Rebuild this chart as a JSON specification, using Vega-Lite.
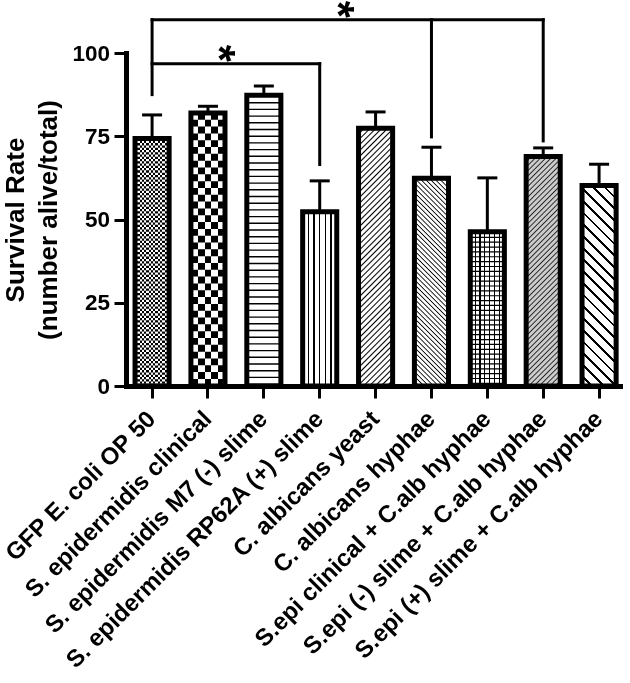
{
"$schema":"https://vega.github.io/schema/vega-lite/v6.json",
"autosize":{"type":"none"},
"width":494,"height":333,
"padding":{"left":126,"top":53,"right":10,"bottom":297},
"background":"#ffffff",
"config":{"view":{"stroke":null},"font":"Liberation Sans"},
"datasets":{
"bars":[
{"id":1,"group":"GFP E. coli OP 50","rate":74.3,"err":81.4},
{"id":2,"group":"S. epidermidis clinical","rate":82.0,"err":84.0},
{"id":3,"group":"S. epidermidis M7 (-) slime","rate":87.3,"err":90.1},
{"id":4,"group":"S. epidermidis RP62A (+) slime","rate":52.3,"err":61.6},
{"id":5,"group":"C. albicans yeast","rate":77.4,"err":82.3},
{"id":6,"group":"C. albicans hyphae","rate":62.4,"err":71.7},
{"id":7,"group":"S.epi clinical + C.alb hyphae","rate":46.3,"err":62.5},
{"id":8,"group":"S.epi (-) slime + C.alb hyphae","rate":68.9,"err":71.5},
{"id":9,"group":"S.epi (+) slime + C.alb hyphae","rate":60.2,"err":66.6}
],
"hbr":[
{"from":"GFP E. coli OP 50","to":"S. epidermidis RP62A (+) slime","level":96.8},
{"from":"GFP E. coli OP 50","to":"S.epi (-) slime + C.alb hyphae","level":110}
],
"vbr":[
{"at":"GFP E. coli OP 50","low":87.5,"high":110},
{"at":"S. epidermidis RP62A (+) slime","low":66.5,"high":96.8},
{"at":"C. albicans hyphae","low":74.8,"high":110},
{"at":"S.epi (-) slime + C.alb hyphae","low":73.6,"high":110}
],
"stars":[
{"n":1,"at":"S. epidermidis clinical","level":99.9},
{"n":2,"at":"S. epidermidis RP62A (+) slime","level":113.1}
]
},
"data":{"name":"bars"},
"encoding":{
"x":{"field":"group","type":"nominal","sort":null,
"scale":{"domain":["GFP E. coli OP 50","S. epidermidis clinical","S. epidermidis M7 (-) slime","S. epidermidis RP62A (+) slime","C. albicans yeast","C. albicans hyphae","S.epi clinical + C.alb hyphae","S.epi (-) slime + C.alb hyphae","S.epi (+) slime + C.alb hyphae"],"paddingInner":0.39,"paddingOuter":0.1156,"align":0.7},
"axis":{"title":null,"labelAngle":-45,"labelAlign":"right","labelBaseline":"middle","labelFontSize":24,"labelFontWeight":"bold","labelColor":"#000","labelPadding":17,"labelLimit":0,"labelOverlap":false,"tickSize":12,"tickWidth":3,"tickColor":"#000","domainColor":"#000","domainWidth":5,"domainCap":"square","grid":false}},
"y":{"field":"rate","type":"quantitative","scale":{"domain":[0,100],"nice":false},
"axis":{"values":[0,25,50,75,100],"title":["Survival Rate","(number alive/total)"],"titleFontSize":26,"titleFontWeight":"bold","titleColor":"#000","titleLineHeight":33,"titleX":-124,"titleY":166.5,"titleAngle":270,"titleAlign":"center","titleBaseline":"top","labelFontSize":22.5,"labelFontWeight":"bold","labelColor":"#000","labelPadding":4.5,"tickSize":12,"tickWidth":3,"tickColor":"#000","domainColor":"#000","domainWidth":5,"domainCap":"square","grid":false}}
},
"layer":[
{"transform":[{"filter":"datum.id==1"}],"mark":{"type":"bar","fill":{"gradient":"linear","x1":0,"y1":0,"x2":1,"y2":0,"stops":[{"offset":0,"color":"#000"},{"offset":0.0667,"color":"#000"},{"offset":0.0667,"color":"#fff"},{"offset":0.1333,"color":"#fff"},{"offset":0.1333,"color":"#000"},{"offset":0.2,"color":"#000"},{"offset":0.2,"color":"#fff"},{"offset":0.2667,"color":"#fff"},{"offset":0.2667,"color":"#000"},{"offset":0.3333,"color":"#000"},{"offset":0.3333,"color":"#fff"},{"offset":0.4,"color":"#fff"},{"offset":0.4,"color":"#000"},{"offset":0.4667,"color":"#000"},{"offset":0.4667,"color":"#fff"},{"offset":0.5333,"color":"#fff"},{"offset":0.5333,"color":"#000"},{"offset":0.6,"color":"#000"},{"offset":0.6,"color":"#fff"},{"offset":0.6667,"color":"#fff"},{"offset":0.6667,"color":"#000"},{"offset":0.7333,"color":"#000"},{"offset":0.7333,"color":"#fff"},{"offset":0.8,"color":"#fff"},{"offset":0.8,"color":"#000"},{"offset":0.8667,"color":"#000"},{"offset":0.8667,"color":"#fff"},{"offset":0.9333,"color":"#fff"},{"offset":0.9333,"color":"#000"},{"offset":1,"color":"#000"}]}}},
{"transform":[{"filter":"datum.id==2"}],"mark":{"type":"bar","fill":{"gradient":"linear","x1":0,"y1":0,"x2":1,"y2":0,"stops":[{"offset":0,"color":"#000"},{"offset":0.2,"color":"#000"},{"offset":0.2,"color":"#fff"},{"offset":0.4,"color":"#fff"},{"offset":0.4,"color":"#000"},{"offset":0.6,"color":"#000"},{"offset":0.6,"color":"#fff"},{"offset":0.8,"color":"#fff"},{"offset":0.8,"color":"#000"},{"offset":1,"color":"#000"}]}}},
{"transform":[{"filter":"datum.id==3"}],"mark":{"type":"bar","fill":"#fff"}},
{"transform":[{"filter":"datum.id==4"}],"mark":{"type":"bar","fill":{"gradient":"linear","x1":0,"y1":0,"x2":1,"y2":0,"stops":[{"offset":0,"color":"#fff"},{"offset":0.149,"color":"#fff"},{"offset":0.149,"color":"#000"},{"offset":0.184,"color":"#000"},{"offset":0.184,"color":"#fff"},{"offset":0.316,"color":"#fff"},{"offset":0.316,"color":"#000"},{"offset":0.351,"color":"#000"},{"offset":0.351,"color":"#fff"},{"offset":0.482,"color":"#fff"},{"offset":0.482,"color":"#000"},{"offset":0.518,"color":"#000"},{"offset":0.518,"color":"#fff"},{"offset":0.649,"color":"#fff"},{"offset":0.649,"color":"#000"},{"offset":0.684,"color":"#000"},{"offset":0.684,"color":"#fff"},{"offset":0.816,"color":"#fff"},{"offset":0.816,"color":"#000"},{"offset":0.851,"color":"#000"},{"offset":0.851,"color":"#fff"},{"offset":1,"color":"#fff"}]}}},
{"transform":[{"filter":"datum.id==5"}],"mark":{"type":"bar","fill":{"gradient":"linear","x1":0,"y1":0,"x2":0.147,"y2":1.113,"stops":[{"offset":0,"color":"#000"},{"offset":0.005,"color":"#fff"},{"offset":0.015,"color":"#fff"},{"offset":0.02,"color":"#000"},{"offset":0.025,"color":"#fff"},{"offset":0.035,"color":"#fff"},{"offset":0.04,"color":"#000"},{"offset":0.045,"color":"#fff"},{"offset":0.055,"color":"#fff"},{"offset":0.06,"color":"#000"},{"offset":0.065,"color":"#fff"},{"offset":0.075,"color":"#fff"},{"offset":0.08,"color":"#000"},{"offset":0.085,"color":"#fff"},{"offset":0.095,"color":"#fff"},{"offset":0.1,"color":"#000"},{"offset":0.105,"color":"#fff"},{"offset":0.115,"color":"#fff"},{"offset":0.12,"color":"#000"},{"offset":0.125,"color":"#fff"},{"offset":0.135,"color":"#fff"},{"offset":0.14,"color":"#000"},{"offset":0.145,"color":"#fff"},{"offset":0.155,"color":"#fff"},{"offset":0.16,"color":"#000"},{"offset":0.165,"color":"#fff"},{"offset":0.175,"color":"#fff"},{"offset":0.18,"color":"#000"},{"offset":0.185,"color":"#fff"},{"offset":0.195,"color":"#fff"},{"offset":0.2,"color":"#000"},{"offset":0.205,"color":"#fff"},{"offset":0.215,"color":"#fff"},{"offset":0.22,"color":"#000"},{"offset":0.225,"color":"#fff"},{"offset":0.235,"color":"#fff"},{"offset":0.24,"color":"#000"},{"offset":0.245,"color":"#fff"},{"offset":0.255,"color":"#fff"},{"offset":0.26,"color":"#000"},{"offset":0.265,"color":"#fff"},{"offset":0.275,"color":"#fff"},{"offset":0.28,"color":"#000"},{"offset":0.285,"color":"#fff"},{"offset":0.295,"color":"#fff"},{"offset":0.3,"color":"#000"},{"offset":0.305,"color":"#fff"},{"offset":0.315,"color":"#fff"},{"offset":0.32,"color":"#000"},{"offset":0.325,"color":"#fff"},{"offset":0.335,"color":"#fff"},{"offset":0.34,"color":"#000"},{"offset":0.345,"color":"#fff"},{"offset":0.355,"color":"#fff"},{"offset":0.36,"color":"#000"},{"offset":0.365,"color":"#fff"},{"offset":0.375,"color":"#fff"},{"offset":0.38,"color":"#000"},{"offset":0.385,"color":"#fff"},{"offset":0.395,"color":"#fff"},{"offset":0.4,"color":"#000"},{"offset":0.405,"color":"#fff"},{"offset":0.415,"color":"#fff"},{"offset":0.42,"color":"#000"},{"offset":0.425,"color":"#fff"},{"offset":0.435,"color":"#fff"},{"offset":0.44,"color":"#000"},{"offset":0.445,"color":"#fff"},{"offset":0.455,"color":"#fff"},{"offset":0.46,"color":"#000"},{"offset":0.465,"color":"#fff"},{"offset":0.475,"color":"#fff"},{"offset":0.48,"color":"#000"},{"offset":0.485,"color":"#fff"},{"offset":0.495,"color":"#fff"},{"offset":0.5,"color":"#000"},{"offset":0.505,"color":"#fff"},{"offset":0.515,"color":"#fff"},{"offset":0.52,"color":"#000"},{"offset":0.525,"color":"#fff"},{"offset":0.535,"color":"#fff"},{"offset":0.54,"color":"#000"},{"offset":0.545,"color":"#fff"},{"offset":0.555,"color":"#fff"},{"offset":0.56,"color":"#000"},{"offset":0.565,"color":"#fff"},{"offset":0.575,"color":"#fff"},{"offset":0.58,"color":"#000"},{"offset":0.585,"color":"#fff"},{"offset":0.595,"color":"#fff"},{"offset":0.6,"color":"#000"},{"offset":0.605,"color":"#fff"},{"offset":0.615,"color":"#fff"},{"offset":0.62,"color":"#000"},{"offset":0.625,"color":"#fff"},{"offset":0.635,"color":"#fff"},{"offset":0.64,"color":"#000"},{"offset":0.645,"color":"#fff"},{"offset":0.655,"color":"#fff"},{"offset":0.66,"color":"#000"},{"offset":0.665,"color":"#fff"},{"offset":0.675,"color":"#fff"},{"offset":0.68,"color":"#000"},{"offset":0.685,"color":"#fff"},{"offset":0.695,"color":"#fff"},{"offset":0.7,"color":"#000"},{"offset":0.705,"color":"#fff"},{"offset":0.715,"color":"#fff"},{"offset":0.72,"color":"#000"},{"offset":0.725,"color":"#fff"},{"offset":0.735,"color":"#fff"},{"offset":0.74,"color":"#000"},{"offset":0.745,"color":"#fff"},{"offset":0.755,"color":"#fff"},{"offset":0.76,"color":"#000"},{"offset":0.765,"color":"#fff"},{"offset":0.775,"color":"#fff"},{"offset":0.78,"color":"#000"},{"offset":0.785,"color":"#fff"},{"offset":0.795,"color":"#fff"},{"offset":0.8,"color":"#000"},{"offset":0.805,"color":"#fff"},{"offset":0.815,"color":"#fff"},{"offset":0.82,"color":"#000"},{"offset":0.825,"color":"#fff"},{"offset":0.835,"color":"#fff"},{"offset":0.84,"color":"#000"},{"offset":0.845,"color":"#fff"},{"offset":0.855,"color":"#fff"},{"offset":0.86,"color":"#000"},{"offset":0.865,"color":"#fff"},{"offset":0.875,"color":"#fff"},{"offset":0.88,"color":"#000"},{"offset":0.885,"color":"#fff"},{"offset":0.895,"color":"#fff"},{"offset":0.9,"color":"#000"},{"offset":0.905,"color":"#fff"},{"offset":0.915,"color":"#fff"},{"offset":0.92,"color":"#000"},{"offset":0.925,"color":"#fff"},{"offset":0.935,"color":"#fff"},{"offset":0.94,"color":"#000"},{"offset":0.945,"color":"#fff"},{"offset":0.955,"color":"#fff"},{"offset":0.96,"color":"#000"},{"offset":0.965,"color":"#fff"},{"offset":0.975,"color":"#fff"},{"offset":0.98,"color":"#000"},{"offset":0.985,"color":"#fff"},{"offset":0.995,"color":"#fff"},{"offset":1,"color":"#000"}]}}},
{"transform":[{"filter":"datum.id==6"}],"mark":{"type":"bar","fill":{"gradient":"linear","x1":1,"y1":0,"x2":0.814,"y2":1.134,"stops":[{"offset":0,"color":"#000"},{"offset":0.005,"color":"#fff"},{"offset":0.015,"color":"#fff"},{"offset":0.02,"color":"#000"},{"offset":0.025,"color":"#fff"},{"offset":0.035,"color":"#fff"},{"offset":0.04,"color":"#000"},{"offset":0.045,"color":"#fff"},{"offset":0.055,"color":"#fff"},{"offset":0.06,"color":"#000"},{"offset":0.065,"color":"#fff"},{"offset":0.075,"color":"#fff"},{"offset":0.08,"color":"#000"},{"offset":0.085,"color":"#fff"},{"offset":0.095,"color":"#fff"},{"offset":0.1,"color":"#000"},{"offset":0.105,"color":"#fff"},{"offset":0.115,"color":"#fff"},{"offset":0.12,"color":"#000"},{"offset":0.125,"color":"#fff"},{"offset":0.135,"color":"#fff"},{"offset":0.14,"color":"#000"},{"offset":0.145,"color":"#fff"},{"offset":0.155,"color":"#fff"},{"offset":0.16,"color":"#000"},{"offset":0.165,"color":"#fff"},{"offset":0.175,"color":"#fff"},{"offset":0.18,"color":"#000"},{"offset":0.185,"color":"#fff"},{"offset":0.195,"color":"#fff"},{"offset":0.2,"color":"#000"},{"offset":0.205,"color":"#fff"},{"offset":0.215,"color":"#fff"},{"offset":0.22,"color":"#000"},{"offset":0.225,"color":"#fff"},{"offset":0.235,"color":"#fff"},{"offset":0.24,"color":"#000"},{"offset":0.245,"color":"#fff"},{"offset":0.255,"color":"#fff"},{"offset":0.26,"color":"#000"},{"offset":0.265,"color":"#fff"},{"offset":0.275,"color":"#fff"},{"offset":0.28,"color":"#000"},{"offset":0.285,"color":"#fff"},{"offset":0.295,"color":"#fff"},{"offset":0.3,"color":"#000"},{"offset":0.305,"color":"#fff"},{"offset":0.315,"color":"#fff"},{"offset":0.32,"color":"#000"},{"offset":0.325,"color":"#fff"},{"offset":0.335,"color":"#fff"},{"offset":0.34,"color":"#000"},{"offset":0.345,"color":"#fff"},{"offset":0.355,"color":"#fff"},{"offset":0.36,"color":"#000"},{"offset":0.365,"color":"#fff"},{"offset":0.375,"color":"#fff"},{"offset":0.38,"color":"#000"},{"offset":0.385,"color":"#fff"},{"offset":0.395,"color":"#fff"},{"offset":0.4,"color":"#000"},{"offset":0.405,"color":"#fff"},{"offset":0.415,"color":"#fff"},{"offset":0.42,"color":"#000"},{"offset":0.425,"color":"#fff"},{"offset":0.435,"color":"#fff"},{"offset":0.44,"color":"#000"},{"offset":0.445,"color":"#fff"},{"offset":0.455,"color":"#fff"},{"offset":0.46,"color":"#000"},{"offset":0.465,"color":"#fff"},{"offset":0.475,"color":"#fff"},{"offset":0.48,"color":"#000"},{"offset":0.485,"color":"#fff"},{"offset":0.495,"color":"#fff"},{"offset":0.5,"color":"#000"},{"offset":0.505,"color":"#fff"},{"offset":0.515,"color":"#fff"},{"offset":0.52,"color":"#000"},{"offset":0.525,"color":"#fff"},{"offset":0.535,"color":"#fff"},{"offset":0.54,"color":"#000"},{"offset":0.545,"color":"#fff"},{"offset":0.555,"color":"#fff"},{"offset":0.56,"color":"#000"},{"offset":0.565,"color":"#fff"},{"offset":0.575,"color":"#fff"},{"offset":0.58,"color":"#000"},{"offset":0.585,"color":"#fff"},{"offset":0.595,"color":"#fff"},{"offset":0.6,"color":"#000"},{"offset":0.605,"color":"#fff"},{"offset":0.615,"color":"#fff"},{"offset":0.62,"color":"#000"},{"offset":0.625,"color":"#fff"},{"offset":0.635,"color":"#fff"},{"offset":0.64,"color":"#000"},{"offset":0.645,"color":"#fff"},{"offset":0.655,"color":"#fff"},{"offset":0.66,"color":"#000"},{"offset":0.665,"color":"#fff"},{"offset":0.675,"color":"#fff"},{"offset":0.68,"color":"#000"},{"offset":0.685,"color":"#fff"},{"offset":0.695,"color":"#fff"},{"offset":0.7,"color":"#000"},{"offset":0.705,"color":"#fff"},{"offset":0.715,"color":"#fff"},{"offset":0.72,"color":"#000"},{"offset":0.725,"color":"#fff"},{"offset":0.735,"color":"#fff"},{"offset":0.74,"color":"#000"},{"offset":0.745,"color":"#fff"},{"offset":0.755,"color":"#fff"},{"offset":0.76,"color":"#000"},{"offset":0.765,"color":"#fff"},{"offset":0.775,"color":"#fff"},{"offset":0.78,"color":"#000"},{"offset":0.785,"color":"#fff"},{"offset":0.795,"color":"#fff"},{"offset":0.8,"color":"#000"},{"offset":0.805,"color":"#fff"},{"offset":0.815,"color":"#fff"},{"offset":0.82,"color":"#000"},{"offset":0.825,"color":"#fff"},{"offset":0.835,"color":"#fff"},{"offset":0.84,"color":"#000"},{"offset":0.845,"color":"#fff"},{"offset":0.855,"color":"#fff"},{"offset":0.86,"color":"#000"},{"offset":0.865,"color":"#fff"},{"offset":0.875,"color":"#fff"},{"offset":0.88,"color":"#000"},{"offset":0.885,"color":"#fff"},{"offset":0.895,"color":"#fff"},{"offset":0.9,"color":"#000"},{"offset":0.905,"color":"#fff"},{"offset":0.915,"color":"#fff"},{"offset":0.92,"color":"#000"},{"offset":0.925,"color":"#fff"},{"offset":0.935,"color":"#fff"},{"offset":0.94,"color":"#000"},{"offset":0.945,"color":"#fff"},{"offset":0.955,"color":"#fff"},{"offset":0.96,"color":"#000"},{"offset":0.965,"color":"#fff"},{"offset":0.975,"color":"#fff"},{"offset":0.98,"color":"#000"},{"offset":0.985,"color":"#fff"},{"offset":0.995,"color":"#fff"},{"offset":1,"color":"#000"}]}}},
{"transform":[{"filter":"datum.id==7"}],"mark":{"type":"bar","fill":{"gradient":"linear","x1":0,"y1":0,"x2":1,"y2":0,"stops":[{"offset":0,"color":"#fff"},{"offset":0.125,"color":"#fff"},{"offset":0.125,"color":"#000"},{"offset":0.161,"color":"#000"},{"offset":0.161,"color":"#fff"},{"offset":0.268,"color":"#fff"},{"offset":0.268,"color":"#000"},{"offset":0.303,"color":"#000"},{"offset":0.303,"color":"#fff"},{"offset":0.411,"color":"#fff"},{"offset":0.411,"color":"#000"},{"offset":0.446,"color":"#000"},{"offset":0.446,"color":"#fff"},{"offset":0.554,"color":"#fff"},{"offset":0.554,"color":"#000"},{"offset":0.589,"color":"#000"},{"offset":0.589,"color":"#fff"},{"offset":0.697,"color":"#fff"},{"offset":0.697,"color":"#000"},{"offset":0.732,"color":"#000"},{"offset":0.732,"color":"#fff"},{"offset":0.839,"color":"#fff"},{"offset":0.839,"color":"#000"},{"offset":0.875,"color":"#000"},{"offset":0.875,"color":"#fff"},{"offset":1,"color":"#fff"}]}}},
{"transform":[{"filter":"datum.id==8"}],"mark":{"type":"bar","fill":{"gradient":"linear","x1":0,"y1":0,"x2":0.167,"y2":1.124,"stops":[{"offset":0,"color":"#222"},{"offset":0.005,"color":"#ccc"},{"offset":0.015,"color":"#ccc"},{"offset":0.02,"color":"#222"},{"offset":0.025,"color":"#ccc"},{"offset":0.035,"color":"#ccc"},{"offset":0.04,"color":"#222"},{"offset":0.045,"color":"#ccc"},{"offset":0.055,"color":"#ccc"},{"offset":0.06,"color":"#222"},{"offset":0.065,"color":"#ccc"},{"offset":0.075,"color":"#ccc"},{"offset":0.08,"color":"#222"},{"offset":0.085,"color":"#ccc"},{"offset":0.095,"color":"#ccc"},{"offset":0.1,"color":"#222"},{"offset":0.105,"color":"#ccc"},{"offset":0.115,"color":"#ccc"},{"offset":0.12,"color":"#222"},{"offset":0.125,"color":"#ccc"},{"offset":0.135,"color":"#ccc"},{"offset":0.14,"color":"#222"},{"offset":0.145,"color":"#ccc"},{"offset":0.155,"color":"#ccc"},{"offset":0.16,"color":"#222"},{"offset":0.165,"color":"#ccc"},{"offset":0.175,"color":"#ccc"},{"offset":0.18,"color":"#222"},{"offset":0.185,"color":"#ccc"},{"offset":0.195,"color":"#ccc"},{"offset":0.2,"color":"#222"},{"offset":0.205,"color":"#ccc"},{"offset":0.215,"color":"#ccc"},{"offset":0.22,"color":"#222"},{"offset":0.225,"color":"#ccc"},{"offset":0.235,"color":"#ccc"},{"offset":0.24,"color":"#222"},{"offset":0.245,"color":"#ccc"},{"offset":0.255,"color":"#ccc"},{"offset":0.26,"color":"#222"},{"offset":0.265,"color":"#ccc"},{"offset":0.275,"color":"#ccc"},{"offset":0.28,"color":"#222"},{"offset":0.285,"color":"#ccc"},{"offset":0.295,"color":"#ccc"},{"offset":0.3,"color":"#222"},{"offset":0.305,"color":"#ccc"},{"offset":0.315,"color":"#ccc"},{"offset":0.32,"color":"#222"},{"offset":0.325,"color":"#ccc"},{"offset":0.335,"color":"#ccc"},{"offset":0.34,"color":"#222"},{"offset":0.345,"color":"#ccc"},{"offset":0.355,"color":"#ccc"},{"offset":0.36,"color":"#222"},{"offset":0.365,"color":"#ccc"},{"offset":0.375,"color":"#ccc"},{"offset":0.38,"color":"#222"},{"offset":0.385,"color":"#ccc"},{"offset":0.395,"color":"#ccc"},{"offset":0.4,"color":"#222"},{"offset":0.405,"color":"#ccc"},{"offset":0.415,"color":"#ccc"},{"offset":0.42,"color":"#222"},{"offset":0.425,"color":"#ccc"},{"offset":0.435,"color":"#ccc"},{"offset":0.44,"color":"#222"},{"offset":0.445,"color":"#ccc"},{"offset":0.455,"color":"#ccc"},{"offset":0.46,"color":"#222"},{"offset":0.465,"color":"#ccc"},{"offset":0.475,"color":"#ccc"},{"offset":0.48,"color":"#222"},{"offset":0.485,"color":"#ccc"},{"offset":0.495,"color":"#ccc"},{"offset":0.5,"color":"#222"},{"offset":0.505,"color":"#ccc"},{"offset":0.515,"color":"#ccc"},{"offset":0.52,"color":"#222"},{"offset":0.525,"color":"#ccc"},{"offset":0.535,"color":"#ccc"},{"offset":0.54,"color":"#222"},{"offset":0.545,"color":"#ccc"},{"offset":0.555,"color":"#ccc"},{"offset":0.56,"color":"#222"},{"offset":0.565,"color":"#ccc"},{"offset":0.575,"color":"#ccc"},{"offset":0.58,"color":"#222"},{"offset":0.585,"color":"#ccc"},{"offset":0.595,"color":"#ccc"},{"offset":0.6,"color":"#222"},{"offset":0.605,"color":"#ccc"},{"offset":0.615,"color":"#ccc"},{"offset":0.62,"color":"#222"},{"offset":0.625,"color":"#ccc"},{"offset":0.635,"color":"#ccc"},{"offset":0.64,"color":"#222"},{"offset":0.645,"color":"#ccc"},{"offset":0.655,"color":"#ccc"},{"offset":0.66,"color":"#222"},{"offset":0.665,"color":"#ccc"},{"offset":0.675,"color":"#ccc"},{"offset":0.68,"color":"#222"},{"offset":0.685,"color":"#ccc"},{"offset":0.695,"color":"#ccc"},{"offset":0.7,"color":"#222"},{"offset":0.705,"color":"#ccc"},{"offset":0.715,"color":"#ccc"},{"offset":0.72,"color":"#222"},{"offset":0.725,"color":"#ccc"},{"offset":0.735,"color":"#ccc"},{"offset":0.74,"color":"#222"},{"offset":0.745,"color":"#ccc"},{"offset":0.755,"color":"#ccc"},{"offset":0.76,"color":"#222"},{"offset":0.765,"color":"#ccc"},{"offset":0.775,"color":"#ccc"},{"offset":0.78,"color":"#222"},{"offset":0.785,"color":"#ccc"},{"offset":0.795,"color":"#ccc"},{"offset":0.8,"color":"#222"},{"offset":0.805,"color":"#ccc"},{"offset":0.815,"color":"#ccc"},{"offset":0.82,"color":"#222"},{"offset":0.825,"color":"#ccc"},{"offset":0.835,"color":"#ccc"},{"offset":0.84,"color":"#222"},{"offset":0.845,"color":"#ccc"},{"offset":0.855,"color":"#ccc"},{"offset":0.86,"color":"#222"},{"offset":0.865,"color":"#ccc"},{"offset":0.875,"color":"#ccc"},{"offset":0.88,"color":"#222"},{"offset":0.885,"color":"#ccc"},{"offset":0.895,"color":"#ccc"},{"offset":0.9,"color":"#222"},{"offset":0.905,"color":"#ccc"},{"offset":0.915,"color":"#ccc"},{"offset":0.92,"color":"#222"},{"offset":0.925,"color":"#ccc"},{"offset":0.935,"color":"#ccc"},{"offset":0.94,"color":"#222"},{"offset":0.945,"color":"#ccc"},{"offset":0.955,"color":"#ccc"},{"offset":0.96,"color":"#222"},{"offset":0.965,"color":"#ccc"},{"offset":0.975,"color":"#ccc"},{"offset":0.98,"color":"#222"},{"offset":0.985,"color":"#ccc"},{"offset":0.995,"color":"#ccc"},{"offset":1,"color":"#222"}]}}},
{"transform":[{"filter":"datum.id==9"}],"mark":{"type":"bar","fill":{"gradient":"linear","x1":1,"y1":0,"x2":0.807,"y2":1.137,"stops":[{"offset":0,"color":"#000"},{"offset":0.012,"color":"#000"},{"offset":0.012,"color":"#fff"},{"offset":0.05,"color":"#fff"},{"offset":0.05,"color":"#000"},{"offset":0.062,"color":"#000"},{"offset":0.062,"color":"#fff"},{"offset":0.1,"color":"#fff"},{"offset":0.1,"color":"#000"},{"offset":0.112,"color":"#000"},{"offset":0.112,"color":"#fff"},{"offset":0.15,"color":"#fff"},{"offset":0.15,"color":"#000"},{"offset":0.162,"color":"#000"},{"offset":0.162,"color":"#fff"},{"offset":0.2,"color":"#fff"},{"offset":0.2,"color":"#000"},{"offset":0.212,"color":"#000"},{"offset":0.212,"color":"#fff"},{"offset":0.25,"color":"#fff"},{"offset":0.25,"color":"#000"},{"offset":0.262,"color":"#000"},{"offset":0.262,"color":"#fff"},{"offset":0.3,"color":"#fff"},{"offset":0.3,"color":"#000"},{"offset":0.312,"color":"#000"},{"offset":0.312,"color":"#fff"},{"offset":0.35,"color":"#fff"},{"offset":0.35,"color":"#000"},{"offset":0.362,"color":"#000"},{"offset":0.362,"color":"#fff"},{"offset":0.4,"color":"#fff"},{"offset":0.4,"color":"#000"},{"offset":0.412,"color":"#000"},{"offset":0.412,"color":"#fff"},{"offset":0.45,"color":"#fff"},{"offset":0.45,"color":"#000"},{"offset":0.462,"color":"#000"},{"offset":0.462,"color":"#fff"},{"offset":0.5,"color":"#fff"},{"offset":0.5,"color":"#000"},{"offset":0.512,"color":"#000"},{"offset":0.512,"color":"#fff"},{"offset":0.55,"color":"#fff"},{"offset":0.55,"color":"#000"},{"offset":0.562,"color":"#000"},{"offset":0.562,"color":"#fff"},{"offset":0.6,"color":"#fff"},{"offset":0.6,"color":"#000"},{"offset":0.612,"color":"#000"},{"offset":0.612,"color":"#fff"},{"offset":0.65,"color":"#fff"},{"offset":0.65,"color":"#000"},{"offset":0.662,"color":"#000"},{"offset":0.662,"color":"#fff"},{"offset":0.7,"color":"#fff"},{"offset":0.7,"color":"#000"},{"offset":0.712,"color":"#000"},{"offset":0.712,"color":"#fff"},{"offset":0.75,"color":"#fff"},{"offset":0.75,"color":"#000"},{"offset":0.762,"color":"#000"},{"offset":0.762,"color":"#fff"},{"offset":0.8,"color":"#fff"},{"offset":0.8,"color":"#000"},{"offset":0.812,"color":"#000"},{"offset":0.812,"color":"#fff"},{"offset":0.85,"color":"#fff"},{"offset":0.85,"color":"#000"},{"offset":0.862,"color":"#000"},{"offset":0.862,"color":"#fff"},{"offset":0.9,"color":"#fff"},{"offset":0.9,"color":"#000"},{"offset":0.912,"color":"#000"},{"offset":0.912,"color":"#fff"},{"offset":0.95,"color":"#fff"},{"offset":0.95,"color":"#000"},{"offset":0.962,"color":"#000"},{"offset":0.962,"color":"#fff"},{"offset":1,"color":"#fff"}]}}},
{"transform":[{"filter":"datum.id==1"}],"mark":{"type":"rule","stroke":"#fff","strokeWidth":34.08,"strokeDash":[2.27,2.27],"blend":"difference"},"encoding":{"x":{"field":"group","type":"nominal","sort":null,"bandPosition":0.5},"y2":{"datum":0}}},
{"transform":[{"filter":"datum.id==2"}],"mark":{"type":"rule","stroke":"#fff","strokeWidth":34.08,"strokeDash":[6.82,6.82],"blend":"difference"},"encoding":{"x":{"field":"group","type":"nominal","sort":null,"bandPosition":0.5},"y2":{"datum":0}}},
{"transform":[{"filter":"datum.id==3"}],"mark":{"type":"rule","stroke":"#000","strokeWidth":34.08,"strokeDash":[1.4,5.3]},"encoding":{"x":{"field":"group","type":"nominal","sort":null,"bandPosition":0.5},"y2":{"datum":0}}},
{"transform":[{"filter":"datum.id==7"}],"mark":{"type":"rule","stroke":"#000","strokeWidth":34.08,"strokeDash":[1.2,3.67]},"encoding":{"x":{"field":"group","type":"nominal","sort":null,"bandPosition":0.5},"y2":{"datum":0}}},
{"mark":{"type":"bar","fill":"#fff","fillOpacity":0,"stroke":"#000","strokeWidth":5}},
{"mark":{"type":"rule","stroke":"#000","strokeWidth":3},"encoding":{"x":{"field":"group","type":"nominal","sort":null,"bandPosition":0.5},"y2":{"field":"err"}}},
{"mark":{"type":"tick","color":"#000","size":20,"thickness":3,"opacity":1,"orient":"horizontal"},"encoding":{"y":{"field":"err","type":"quantitative"}}},
{"data":{"name":"hbr"},"mark":{"type":"rule","stroke":"#000","strokeWidth":3,"strokeCap":"square"},"encoding":{"x":{"field":"from","type":"nominal","sort":null,"bandPosition":0.5},"x2":{"field":"to","bandPosition":0.5},"y":{"field":"level","type":"quantitative"}}},
{"data":{"name":"vbr"},"mark":{"type":"rule","stroke":"#000","strokeWidth":3,"strokeCap":"square"},"encoding":{"x":{"field":"at","type":"nominal","sort":null,"bandPosition":0.5},"y":{"field":"low","type":"quantitative"},"y2":{"field":"high"}}},
{"data":{"name":"stars"},"transform":[{"filter":"datum.n==1"}],"mark":{"type":"text","text":"*","fontSize":44,"fontWeight":"bold","angle":90,"baseline":"middle","align":"center","fill":"#000"},"encoding":{"x":{"field":"at","type":"nominal","sort":null,"bandPosition":0.77},"y":{"field":"level","type":"quantitative"}}},
{"data":{"name":"stars"},"transform":[{"filter":"datum.n==2"}],"mark":{"type":"text","text":"*","fontSize":44,"fontWeight":"bold","angle":90,"baseline":"middle","align":"center","fill":"#000"},"encoding":{"x":{"field":"at","type":"nominal","sort":null,"bandPosition":0.974},"y":{"field":"level","type":"quantitative"}}}
]
}
